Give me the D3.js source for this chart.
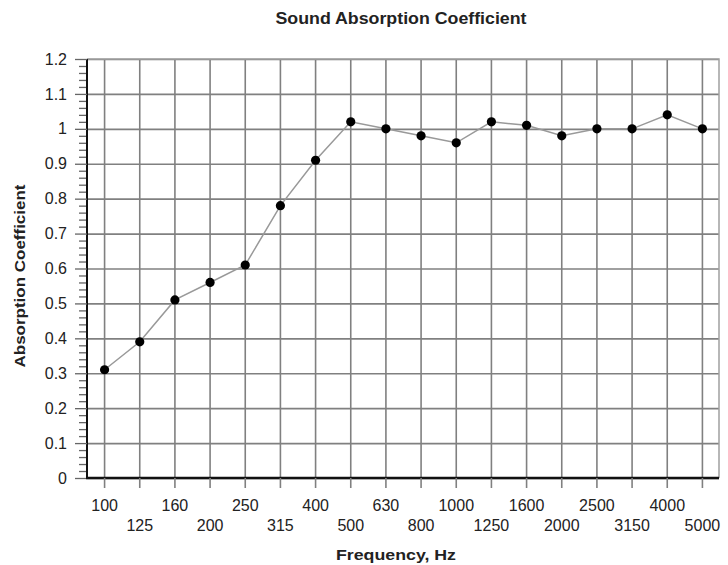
<!DOCTYPE html>
<html>
<head>
<meta charset="utf-8">
<script src="https://cdn.jsdelivr.net/npm/d3@7"></script>
<style>
  body { margin: 0; background: #fff; }
  svg text { font-family: "Liberation Sans", Arial, sans-serif; fill: #222; }
</style>
</head>
<body>
<div id="chart"><svg width="728" height="565"></svg></div>
<script>
// frequency bands (Hz) and measured absorption
const freqs = ["100", "125", "160", "200", "250", "315", "400", "500", "630",
    "800", "1000", "1250", "1600", "2000", "2500", "3150", "4000", "5000"];
const absorption = [0.31, 0.39, 0.51, 0.56, 0.61, 0.78, 0.91, 1.02, 1.00,
    0.98, 0.96, 1.02, 1.01, 0.98, 1.00, 1.00, 1.04, 1.00];
const yTicks = [0, 0.1, 0.2, 0.3, 0.4, 0.5, 0.6, 0.7, 0.8, 0.9, 1.0, 1.1, 1.2];
const yTickLabels = ["0", "0.1", "0.2", "0.3", "0.4", "0.5", "0.6", "0.7", "0.8", "0.9", "1", "1.1", "1.2"];

const svg = d3.select("#chart svg");
const margin = { left: 87, right: 9, top: 59, bottom: 87 };
const width = +svg.attr("width");
const height = +svg.attr("height");
const plotRight = width - margin.right;
const plotBottom = height - margin.bottom;

const xScale = d3.scaleBand()
    .domain(freqs)
    .range([margin.left, plotRight + 1]);

const yScale = d3.scaleLinear()
    .domain([0, 1.2])
    .range([plotBottom, margin.top]);

const gridColor = "#808080";

// horizontal grid
svg.append("g")
    .attr("class", "y-grid")
    .attr("transform", `translate(${margin.left},0)`)
    .call(d3.axisLeft(yScale).tickValues(yTicks).tickSize(-(plotRight - margin.left)).tickFormat(""))
    .call(g => g.select(".domain").remove())
    .selectAll("line")
    .attr("stroke", gridColor)
    .attr("stroke-width", 1.6);

// vertical grid
svg.append("g")
    .attr("class", "x-grid")
    .attr("transform", `translate(0,${plotBottom})`)
    .call(d3.axisBottom(xScale).tickSize(-(plotBottom - margin.top)).tickFormat(""))
    .call(g => g.select(".domain").remove())
    .selectAll("line")
    .attr("stroke", gridColor)
    .attr("stroke-width", 1.6);

// right and top border
svg.append("path")
    .attr("d", `M${margin.left},${margin.top}H${plotRight}V${plotBottom}`)
    .attr("fill", "none")
    .attr("stroke", "#a0a0a0")
    .attr("stroke-width", 1.5);

// minor y ticks
const minorTicks = d3.range(0, 121, 2).filter(v => v % 10 != 0).map(v => v / 100);
svg.append("g")
    .attr("class", "y-minor")
    .attr("transform", `translate(${margin.left},0)`)
    .call(d3.axisLeft(yScale).tickValues(minorTicks).tickSize(8).tickFormat(""))
    .call(g => g.select(".domain").remove())
    .selectAll("line")
    .attr("stroke", "#666")
    .attr("stroke-width", 1.3);

// y axis
svg.append("g")
    .attr("class", "y-axis")
    .attr("transform", `translate(${margin.left},0)`)
    .call(d3.axisLeft(yScale).tickValues(yTicks).tickSize(12).tickPadding(8)
        .tickFormat((d, i) => yTickLabels[i]))
    .call(g => g.select(".domain")
        .attr("d", `M0,${margin.top}V${plotBottom}`)
        .attr("stroke", "#111")
        .attr("stroke-width", 2))
    .call(g => g.selectAll("line").attr("stroke", "#666").attr("stroke-width", 1.3))
    .selectAll("text")
    .style("font-size", "16px")
    .attr("fill", "#262626");

// x axis
svg.append("g")
    .attr("class", "x-axis")
    .attr("transform", `translate(0,${plotBottom})`)
    .call(d3.axisBottom(xScale).tickSize(10))
    .call(g => g.select(".domain")
        .attr("d", `M${margin.left - 1},0H${plotRight}`)
        .attr("stroke", "#111")
        .attr("stroke-width", 2.5))
    .call(g => g.selectAll("line").attr("stroke", gridColor).attr("stroke-width", 1.6))
    .selectAll("text")
    .style("font-size", "16px")
    .attr("fill", "#262626")
    .attr("dy", 0)
    .attr("y", (d, i) => i % 2 ? 53 : 33);

// data line + markers
const line = d3.line()
    .x((d, i) => xScale(freqs[i]) + xScale.bandwidth() / 2)
    .y(d => yScale(d));

svg.append("path")
    .datum(absorption)
    .attr("d", line)
    .attr("fill", "none")
    .attr("stroke", "#999")
    .attr("stroke-width", 1.5);

svg.selectAll(".dot")
    .data(absorption)
    .enter()
    .append("circle")
    .attr("class", "dot")
    .attr("cx", (d, i) => xScale(freqs[i]) + xScale.bandwidth() / 2)
    .attr("cy", d => yScale(d))
    .attr("r", 4.6)
    .attr("fill", "#000");

// titles
svg.append("text")
    .attr("x", 401)
    .attr("y", 24)
    .attr("text-anchor", "middle")
    .attr("textLength", 251)
    .attr("lengthAdjust", "spacingAndGlyphs")
    .style("font-size", "16px")
    .style("font-weight", "bold")
    .text("Sound Absorption Coefficient");

svg.append("text")
    .attr("x", 396)
    .attr("y", 560)
    .attr("text-anchor", "middle")
    .attr("textLength", 120)
    .attr("lengthAdjust", "spacingAndGlyphs")
    .style("font-size", "15.5px")
    .style("font-weight", "bold")
    .text("Frequency, Hz");

svg.append("text")
    .attr("transform", "translate(25,276) rotate(-90)")
    .attr("text-anchor", "middle")
    .attr("textLength", 183)
    .attr("lengthAdjust", "spacingAndGlyphs")
    .style("font-size", "15.5px")
    .style("font-weight", "bold")
    .text("Absorption Coefficient");
</script>
</body>
</html>
